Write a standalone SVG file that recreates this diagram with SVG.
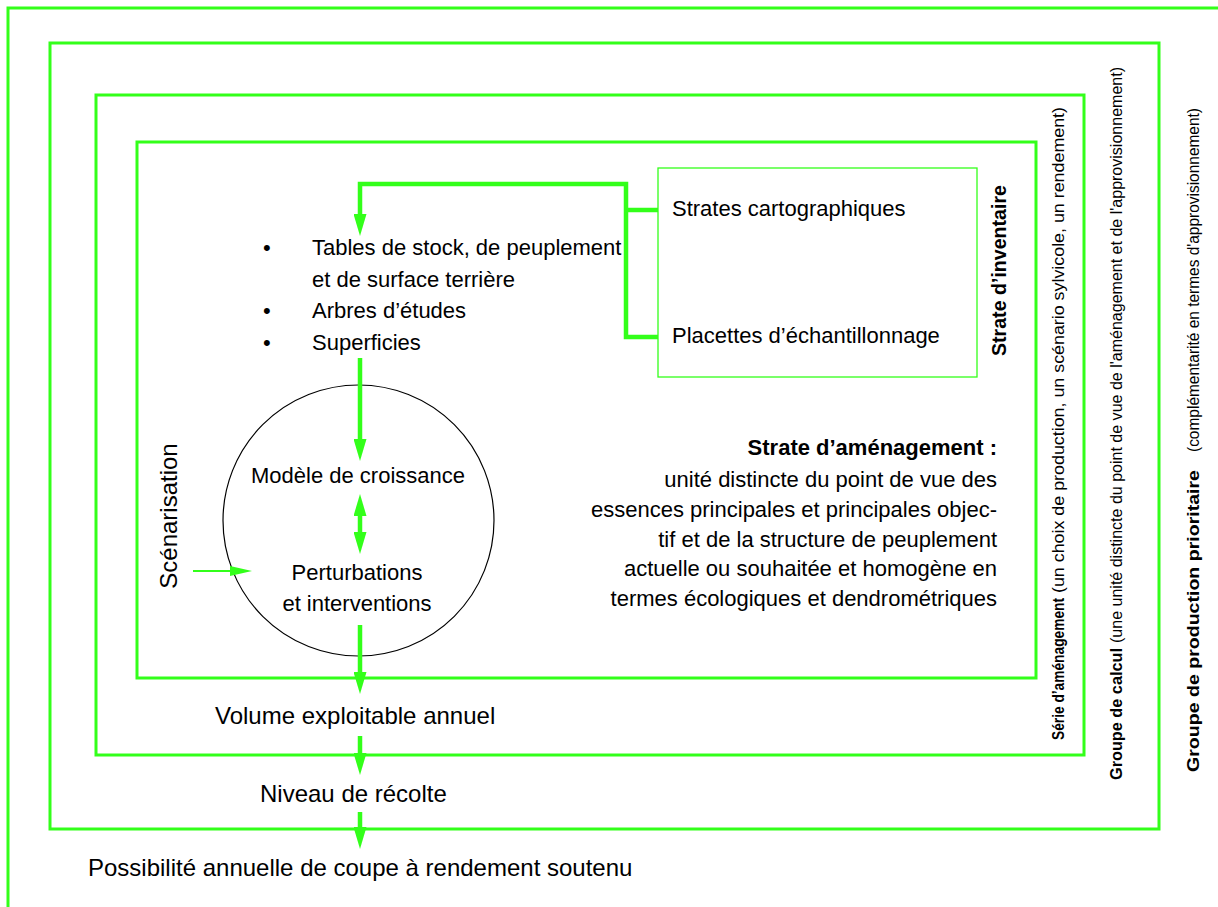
<svg xmlns="http://www.w3.org/2000/svg" width="1218" height="907" viewBox="0 0 1218 907">
<style>
.frame{fill:none;stroke:#33ff1a;stroke-width:3}
.thin{fill:none;stroke:#33ff1a;stroke-width:1.3}
.conn{fill:none;stroke:#33ff1a;stroke-width:4.5}
.conn2{fill:none;stroke:#33ff1a;stroke-width:2}
text{font-family:"Liberation Sans",Arial,Helvetica,sans-serif;fill:#000}
.t22{font-size:22px}
.t24{font-size:24px}
.vb{font-size:16.5px;font-weight:bold}
.vr{font-size:16px}
.b{font-weight:bold}
.end{text-anchor:end}
.mid{text-anchor:middle}
</style>
<defs>
<marker id="ah" markerUnits="userSpaceOnUse" viewBox="0 0 22 13" markerWidth="22" markerHeight="13" refX="1" refY="6.5" orient="auto-start-reverse"><path d="M0,0 L22,6.5 L0,13 z" fill="#33ff1a"/></marker>
<marker id="ahs" markerUnits="userSpaceOnUse" viewBox="0 0 22 10" markerWidth="22" markerHeight="10" refX="1" refY="5" orient="auto"><path d="M0,0 L22,5 L0,10 z" fill="#33ff1a"/></marker>
</defs>
<rect width="1218" height="907" fill="#fff"/>

<g id="groupe-production-prioritaire">
<path class="frame" d="M8,907 V8 H1218"/>
<text class="vb" transform="translate(1199,772) rotate(-90)" textLength="302" lengthAdjust="spacingAndGlyphs">Groupe de production prioritaire</text>
<text class="vr" transform="translate(1199,452) rotate(-90)" textLength="344" lengthAdjust="spacingAndGlyphs">(complémentarité en termes d'approvisionnement)</text>
</g>

<g id="groupe-calcul">
<rect class="frame" x="50" y="43" width="1109" height="786"/>
<text class="vb" transform="translate(1122,780) rotate(-90)" textLength="132" lengthAdjust="spacingAndGlyphs">Groupe de calcul</text>
<text class="vr" transform="translate(1122,643) rotate(-90)" textLength="576" lengthAdjust="spacingAndGlyphs">(une unité distincte du point de vue de l'aménagement et de l'approvisionnement)</text>
</g>

<g id="serie-amenagement">
<rect class="frame" x="96" y="95" width="988" height="660"/>
<text class="vb" transform="translate(1064,740) rotate(-90)" textLength="142" lengthAdjust="spacingAndGlyphs">Série d’aménagement</text>
<text class="vr" transform="translate(1064,593) rotate(-90)" textLength="486" lengthAdjust="spacingAndGlyphs">(un choix de production, un scénario sylvicole, un rendement)</text>
</g>

<g id="strate-amenagement">
<rect class="frame" x="137" y="142" width="899" height="536"/>
<text class="t22 b end" x="997" y="455">Strate d’aménagement :</text>
<text class="t22 end" x="997" y="487">unité distincte du point de vue des</text>
<text class="t22 end" x="997" y="517">essences principales et principales objec-</text>
<text class="t22 end" x="997" y="547">tif et de la structure de peuplement</text>
<text class="t22 end" x="997" y="576">actuelle ou souhaitée et homogène en</text>
<text class="t22 end" x="997" y="606">termes écologiques et dendrométriques</text>
</g>

<g id="strate-inventaire">
<rect class="thin" x="658" y="168" width="319" height="209"/>
<text class="t22" x="672" y="216">Strates cartographiques</text>
<text class="t22" x="672" y="343">Placettes d’échantillonnage</text>
<text transform="translate(1006,356) rotate(-90)" style="font-size:20px;font-weight:bold" textLength="171" lengthAdjust="spacingAndGlyphs">Strate d’inventaire</text>
</g>

<g id="donnees">
<text class="t22" x="263" y="255">•</text>
<text class="t22" x="312" y="255">Tables de stock, de peuplement</text>
<text class="t22" x="312" y="287">et de surface terrière</text>
<text class="t22" x="263" y="318">•</text>
<text class="t22" x="312" y="318">Arbres d’études</text>
<text class="t22" x="263" y="350">•</text>
<text class="t22" x="312" y="350">Superficies</text>
</g>

<g id="modele">
<circle cx="358.5" cy="520.5" r="135.5" fill="none" stroke="#000" stroke-width="1.2"/>
<text class="t22 mid" x="358" y="483">Modèle de croissance</text>
<text class="t22 mid" x="357" y="580">Perturbations</text>
<text class="t22 mid" x="357" y="611">et interventions</text>
</g>

<g id="scenarisation">
<text class="t24 mid" transform="translate(177,516) rotate(-90)">Scénarisation</text>
</g>

<g id="volume"><text class="t24" x="215" y="724">Volume exploitable annuel</text></g>
<g id="niveau"><text class="t24" x="260" y="802">Niveau de récolte</text></g>
<g id="possibilite"><text class="t24" x="88" y="876">Possibilité annuelle de coupe à rendement soutenu</text></g>

<g id="connectors">
<path class="conn" d="M658,210 H626"/>
<path class="conn" d="M658,337 H626 V184 H360 V215" marker-end="url(#ah)"/>
<path class="conn" d="M360,358 V440" marker-end="url(#ah)"/>
<path class="conn" d="M360,515 V533" marker-start="url(#ah)" marker-end="url(#ah)"/>
<path class="conn2" d="M193,571 H231" marker-end="url(#ahs)"/>
<path class="conn" d="M360,625 V673" marker-end="url(#ah)"/>
<path class="conn" d="M360,736 V754" marker-end="url(#ah)"/>
<path class="conn" d="M360,812 V828" marker-end="url(#ah)"/>
</g>
</svg>
